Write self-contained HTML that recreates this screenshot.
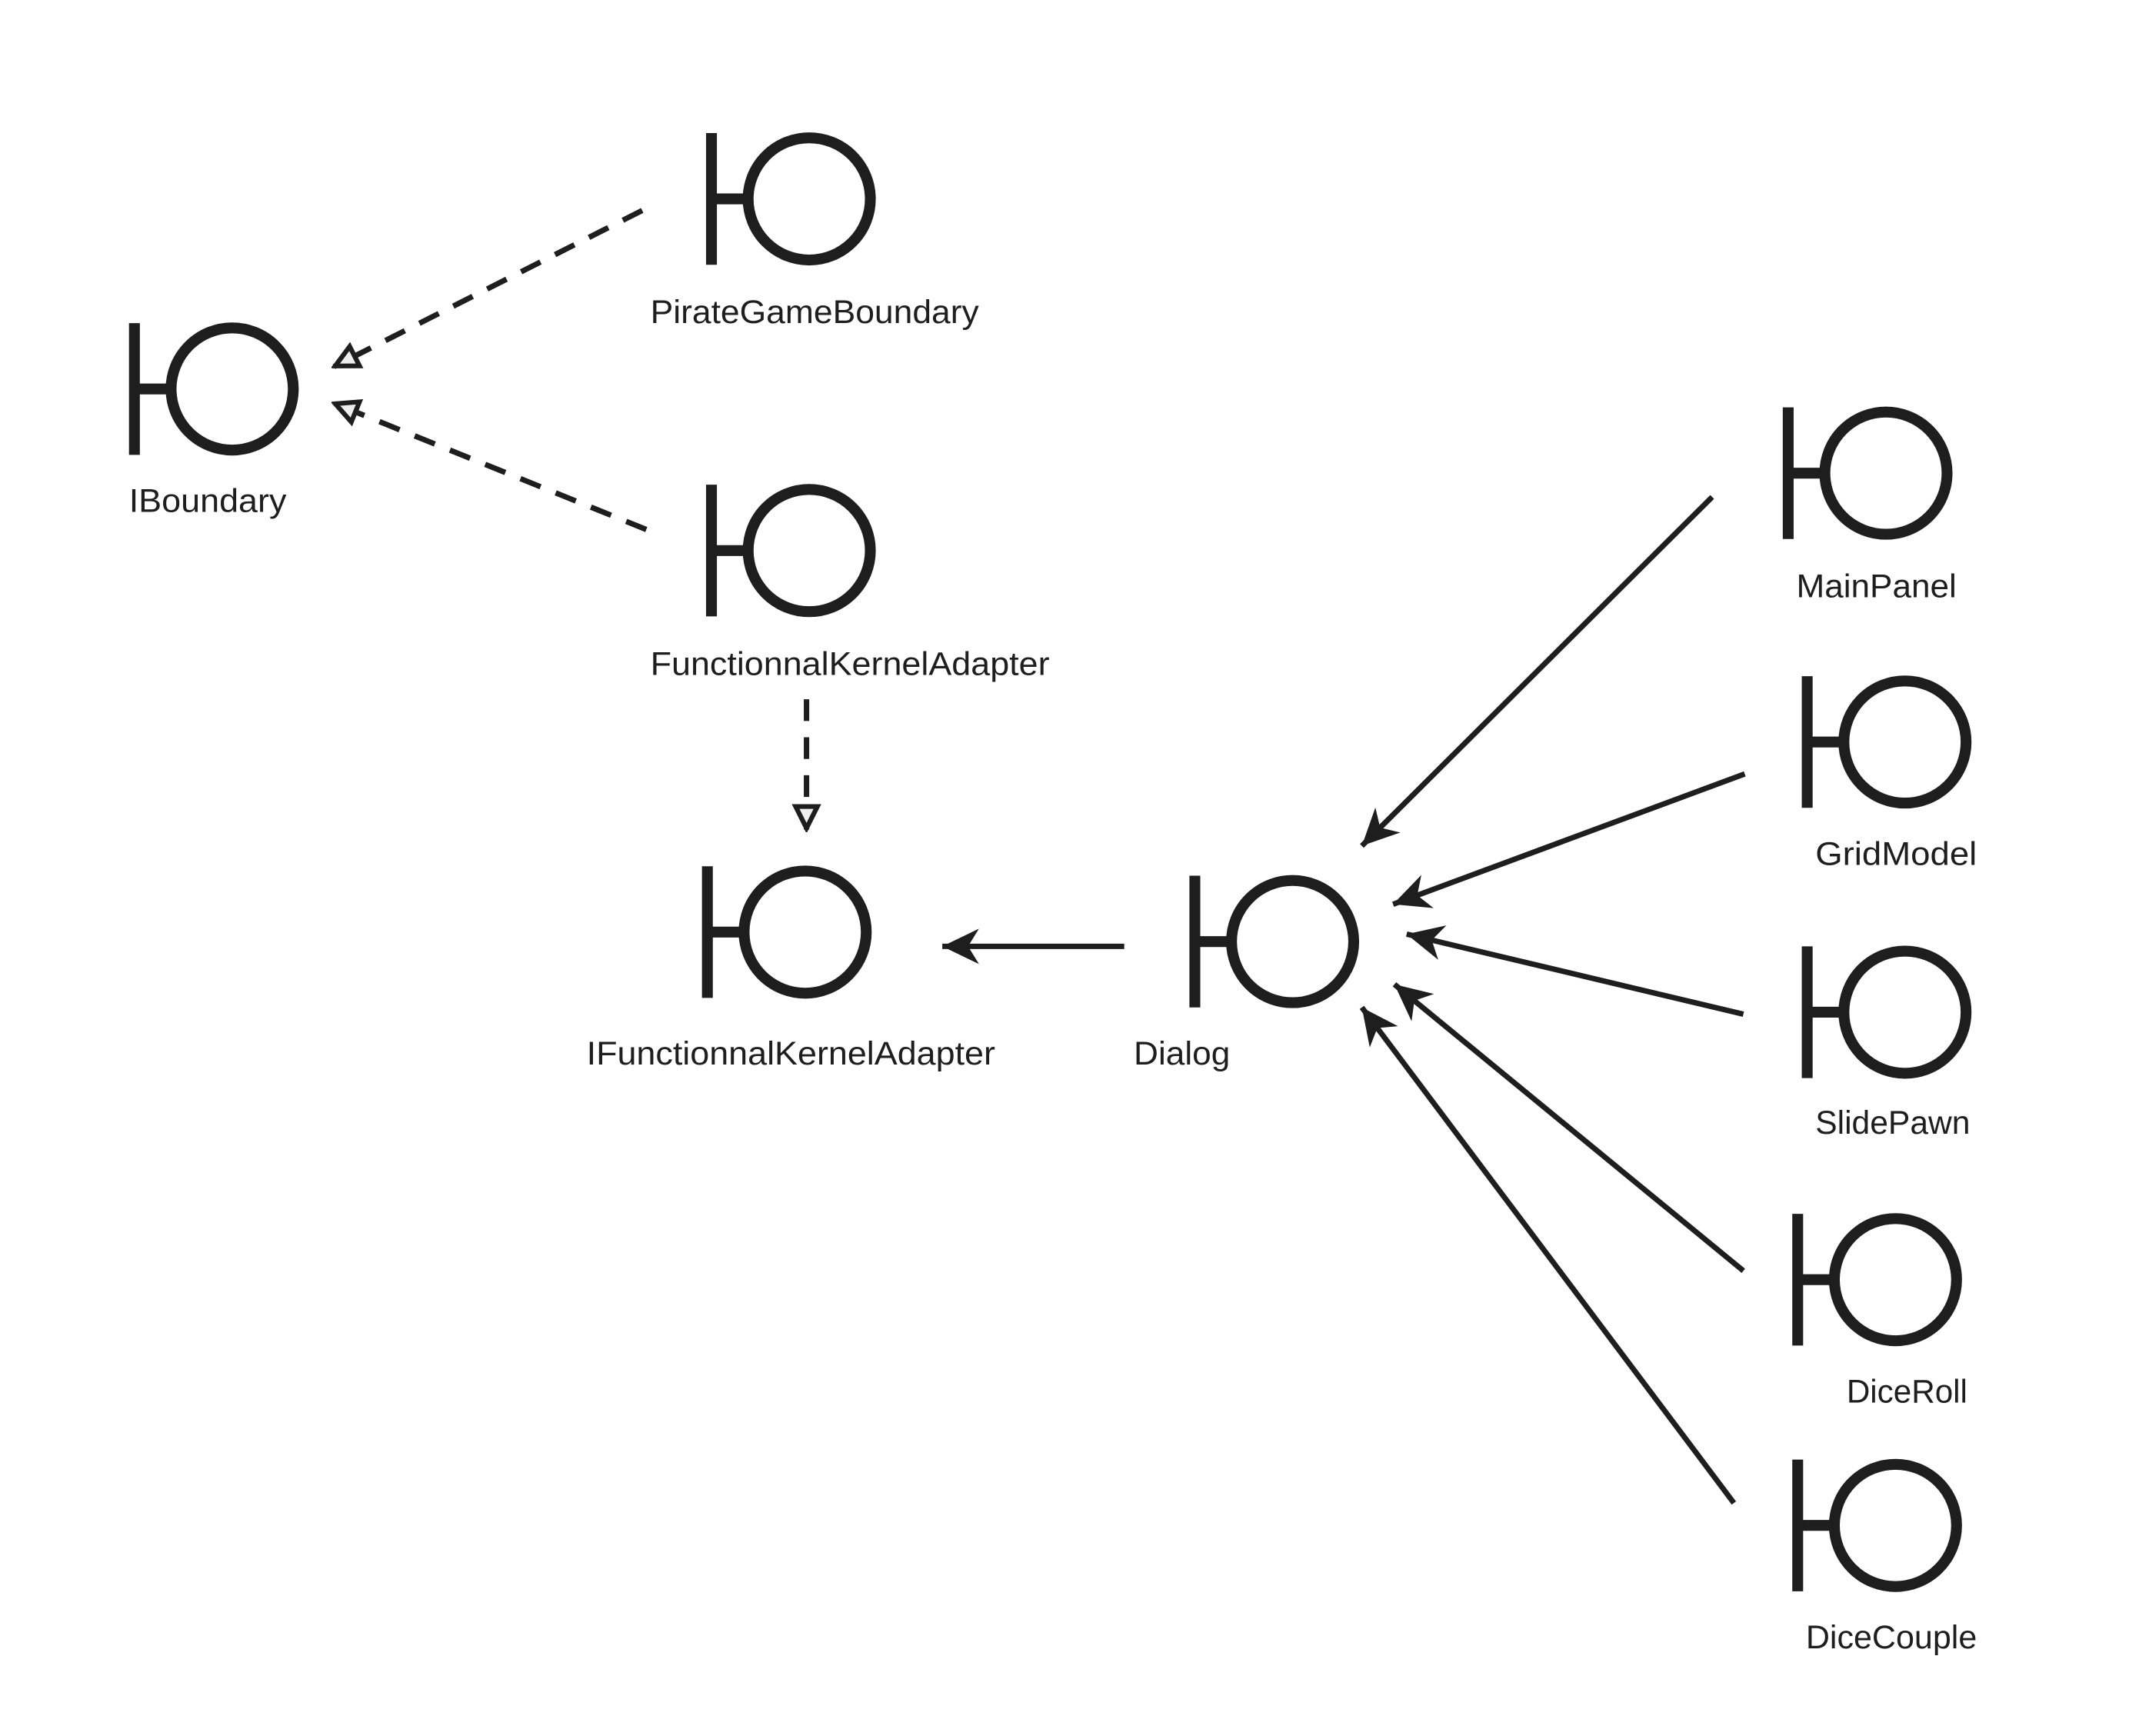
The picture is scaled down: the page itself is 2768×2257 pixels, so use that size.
<!DOCTYPE html>
<html><head><meta charset="utf-8"><style>
html,body{margin:0;padding:0;background:#fff;}
svg{display:block;}
text{font-family:"Liberation Sans",sans-serif;font-size:24px;fill:#1e1e1e;}
</style></head><body>
<svg width="2768" height="2257" viewBox="0 0 1568 1278.6" preserveAspectRatio="none" xmlns="http://www.w3.org/2000/svg">
<defs>
<marker id="fa" markerUnits="userSpaceOnUse" viewBox="-30 -15 32 30" refX="0" refY="0" markerWidth="32" markerHeight="30" orient="auto">
<path d="M0,0 L-27,-13 L-19,0 L-27,13 Z" fill="#1e1e1e"/>
</marker>
<marker id="ha" markerUnits="userSpaceOnUse" viewBox="-22 -12 24 24" refX="0" refY="0" markerWidth="24" markerHeight="24" orient="auto">
<path d="M-1,0 L-17,-8 L-17,8 Z" fill="#eee" stroke="#1e1e1e" stroke-width="3.5"/>
</marker>
<g id="sym" fill="none" stroke="#1e1e1e" stroke-width="8">
<line x1="0" y1="0" x2="0" y2="97"/>
<line x1="0" y1="48.5" x2="26" y2="48.5"/>
<circle cx="72" cy="48.5" r="45"/>
</g>
</defs>
<rect width="1568" height="1279" fill="#fff"/>
<use href="#sym" x="524" y="98"/>
<use href="#sym" x="99" y="238"/>
<use href="#sym" x="524" y="357"/>
<use href="#sym" x="521" y="638"/>
<use href="#sym" x="880" y="645"/>
<use href="#sym" x="1317" y="300"/>
<use href="#sym" x="1331" y="498"/>
<use href="#sym" x="1331" y="697"/>
<use href="#sym" x="1324" y="894"/>
<use href="#sym" x="1324" y="1075"/>
<text x="479" y="238" textLength="242" lengthAdjust="spacingAndGlyphs">PirateGameBoundary</text>
<text x="95" y="377" textLength="116" lengthAdjust="spacingAndGlyphs">IBoundary</text>
<text x="479" y="497" textLength="294" lengthAdjust="spacingAndGlyphs">FunctionnalKernelAdapter</text>
<text x="432" y="784" textLength="301" lengthAdjust="spacingAndGlyphs">IFunctionnalKernelAdapter</text>
<text x="835" y="784" textLength="71" lengthAdjust="spacingAndGlyphs">Dialog</text>
<text x="1323" y="440" textLength="118" lengthAdjust="spacingAndGlyphs">MainPanel</text>
<text x="1337" y="637" textLength="119" lengthAdjust="spacingAndGlyphs">GridModel</text>
<text x="1337" y="835" textLength="114" lengthAdjust="spacingAndGlyphs">SlidePawn</text>
<text x="1360" y="1033" textLength="89" lengthAdjust="spacingAndGlyphs">DiceRoll</text>
<text x="1330" y="1214" textLength="126" lengthAdjust="spacingAndGlyphs">DiceCouple</text>
<g fill="none" stroke="#1e1e1e" stroke-width="4">
<line x1="473" y1="155" x2="246" y2="270" stroke-dasharray="16,12" marker-end="url(#ha)"/>
<line x1="476" y1="390" x2="246" y2="297" stroke-dasharray="16,12" marker-end="url(#ha)"/>
<line x1="594" y1="515" x2="594" y2="611" stroke-dasharray="16,12" marker-end="url(#ha)"/>
<line x1="828" y1="697" x2="694" y2="697" marker-end="url(#fa)"/>
<line x1="1261" y1="366" x2="1003" y2="623" marker-end="url(#fa)"/>
<line x1="1285" y1="570" x2="1026" y2="666" marker-end="url(#fa)"/>
<line x1="1284" y1="747" x2="1036" y2="688" marker-end="url(#fa)"/>
<line x1="1284" y1="936" x2="1027" y2="725" marker-end="url(#fa)"/>
<line x1="1277" y1="1107" x2="1003" y2="742" marker-end="url(#fa)"/>
</g>
</svg>
</body></html>
